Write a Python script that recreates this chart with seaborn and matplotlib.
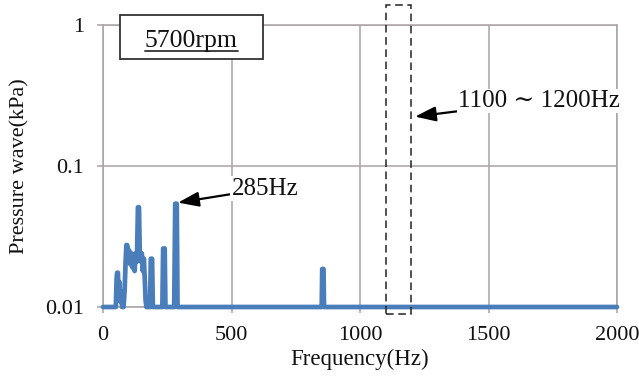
import matplotlib
matplotlib.use("Agg")
import matplotlib.pyplot as plt
import matplotlib.transforms as mtransforms
from matplotlib.patches import Rectangle
from matplotlib.lines import Line2D
from matplotlib.ticker import FixedLocator, FixedFormatter, NullLocator
import pandas as pd
import seaborn as sns

# ---- data ----
freq_hz = [0, 50, 53, 55, 58, 61, 64, 67, 70, 74, 80, 84, 88, 91, 94, 97, 100, 103,
           107, 111, 115, 119, 123, 127, 132, 136, 140, 143, 147, 151, 155, 159, 163,
           166, 169, 183, 186, 188, 191, 194, 231, 234, 236, 240, 243, 277, 281, 283,
           287, 290, 851, 853, 855, 858, 860, 2000]
pressure_kpa = [0.010, 0.010, 0.016, 0.0175, 0.0175, 0.012, 0.015, 0.011, 0.013, 0.010,
                0.010, 0.013, 0.021, 0.0275, 0.0275, 0.026, 0.021, 0.025, 0.020, 0.024,
                0.019, 0.023, 0.018, 0.024, 0.021, 0.051, 0.051, 0.024, 0.021, 0.024,
                0.018, 0.022, 0.015, 0.011, 0.010, 0.010, 0.022, 0.022, 0.022, 0.010,
                0.010, 0.026, 0.026, 0.026, 0.010, 0.010, 0.054, 0.054, 0.054, 0.010,
                0.010, 0.0186, 0.0186, 0.0186, 0.010, 0.010]
x_ticks = [0, 500, 1000, 1500, 2000]
y_ticks = [0.01, 0.1, 1]
y_tick_labels = ["0.01", "0.1", "1"]
x_label = "Frequency(Hz)"
y_label = "Pressure wave(kPa)"
rpm_label = "5700rpm"
peak_label = "285Hz"
band_lo, band_hi = 1100, 1200
band_label = "1100 \u223c 1200Hz"

df = pd.DataFrame({"freq": freq_hz, "pressure": pressure_kpa})

sns.set_theme(style="white")
plt.rcParams["font.family"] = ["Liberation Serif", "DejaVu Serif"]

W, H = 639, 381
fig = plt.figure(figsize=(W / 100, H / 100), dpi=100)
ax = fig.add_axes([103 / W, 1 - 307 / H, (617 - 103) / W, (307 - 25) / H])

grid_col = "#a9a3a2"
txt_col = "#111111"
sns.lineplot(data=df, x="freq", y="pressure", ax=ax, color="#4a7ebb",
             linewidth=3.4, clip_on=False, zorder=5, sort=False)

ax.set_yscale("log")
ax.set_xlim(0, 2000)
ax.set_ylim(0.01, 1)
ax.xaxis.set_major_locator(FixedLocator(x_ticks))
ax.yaxis.set_major_locator(FixedLocator(y_ticks))
ax.yaxis.set_major_formatter(FixedFormatter(y_tick_labels))
ax.yaxis.set_minor_locator(NullLocator())
ax.grid(True, color=grid_col, linewidth=1.1)
for s in ax.spines.values():
    s.set_color(grid_col)
    s.set_linewidth(1.1)
ax.tick_params(axis="both", which="major", length=4.5, width=1.1, color=grid_col,
               labelsize=16, direction="out", bottom=True, left=True,
               labelcolor=txt_col)
ax.tick_params(axis="x", pad=9)
ax.tick_params(axis="y", pad=9)
ax.set_xlabel(x_label, fontsize=16.5, color=txt_col, labelpad=3)
ax.set_ylabel(y_label, fontsize=16, color=txt_col, labelpad=11)

# dashed band rectangle (x in data, y in axes coords)
trans = mtransforms.blended_transform_factory(ax.transData, ax.transAxes)
ax.add_patch(Rectangle((band_lo, -0.025), band_hi - band_lo, 1.096, transform=trans,
                       fill=False, edgecolor="#222222", linestyle=(0, (5, 3)),
                       linewidth=1.1, clip_on=False, zorder=6))

# annotations
arrow = dict(arrowstyle="-|>,head_length=0.7,head_width=0.25", color="black",
             lw=1.6, shrinkA=0, shrinkB=0)
ax.annotate(peak_label, xy=(292, 0.055), xytext=(500, 0.069), fontsize=18,
            ha="left", va="center", color=txt_col,
            bbox=dict(boxstyle="square,pad=0.05", fc="white", ec="none"),
            arrowprops=arrow, zorder=8)
ax.annotate(band_label, xy=(1214, 0.224), xytext=(1381, 0.289), fontsize=18,
            ha="left", va="center", color=txt_col,
            bbox=dict(boxstyle="square,pad=0.05", fc="white", ec="none"),
            arrowprops=arrow, zorder=8, annotation_clip=False)

# rpm label box with underline (figure coordinates)
fig.patches.append(Rectangle((120 / W, 1 - 59 / H), 143 / W, 44 / H,
                             transform=fig.transFigure, facecolor="white",
                             edgecolor="#333333", linewidth=1.3, zorder=10))
fig.text(191 / W, 1 - 47 / H, rpm_label, ha="center", va="baseline", fontsize=18.5,
         color=txt_col, zorder=11)
fig.lines.append(Line2D([145 / W, 238 / W], [1 - 51 / H, 1 - 51 / H],
                        transform=fig.transFigure, color="#333333", linewidth=1.3,
                        zorder=11))

fig.savefig("out.png", dpi=100)
